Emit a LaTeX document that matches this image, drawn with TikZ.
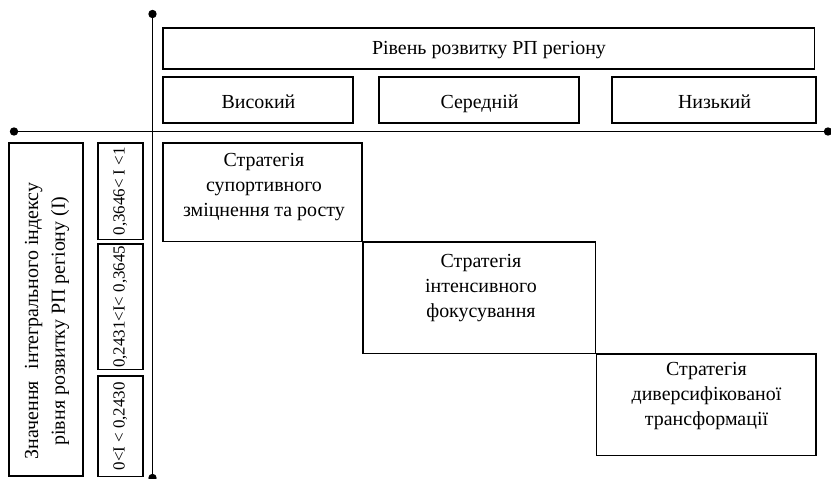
\documentclass[tikz,border=0pt]{standalone}
\usepackage{fontspec}
\setmainfont{Liberation Serif}

\begin{document}
\begin{tikzpicture}[x=1bp, y=-1bp,
  box/.style={draw, line width=1.6bp, rectangle, inner sep=0pt, outer sep=0pt, anchor=north west},
  lbl/.style={font=\fontsize{20}{25}\selectfont, align=center, inner sep=0pt},
  vlbl/.style={font=\fontsize{20}{27}\selectfont, align=center, inner sep=0pt, rotate=90},
  rlbl/.style={font=\fontsize{17}{20}\selectfont, inner sep=0pt, rotate=90},
  axis/.style={line width=1.8bp},
  dot/.style={fill=black}]
\useasboundingbox (0,0) rectangle (831,479);

% axes
\coordinate (vtop) at (152.5,14);
\coordinate (vbot) at (152.5,478);
\coordinate (hleft) at (14,131.5);
\coordinate (hright) at (828,131.5);
\draw[axis] (vtop) -- (vbot);
\draw[axis] (hleft) -- (hright);
\foreach \p in {vtop,vbot,hleft,hright} \fill[dot] (\p) circle (4.2);

% header: development level
\node[box, minimum width=654, minimum height=41] (head) at (163,28) {};
\node[lbl, anchor=base] (headtxt) at (489,54.5) {Рівень розвитку РП регіону};
\node[box, minimum width=191, minimum height=46] (vys) at (163,77) {};
\node[lbl, anchor=base] at (258.5,108.5) {Високий};
\node[box, minimum width=201, minimum height=46] (ser) at (379,77) {};
\node[lbl, anchor=base] at (479.5,108.5) {Середній};
\node[box, minimum width=205, minimum height=46] (niz) at (612,77) {};
\node[lbl, anchor=base] at (714.5,108.5) {Низький};

% left side: index value ranges
\node[box, minimum width=74, minimum height=334] (big) at (9,143) {};
\node[vlbl] (bigtxt) at (47,321) {Значення\hspace{0.6em}інтегрального індексу\\рівня розвитку РП регіону (І)};
\node[box, minimum width=45, minimum height=97] (r1) at (98,143) {};
\node[rlbl] at (r1.center) {0,3646< І <1};
\node[box, minimum width=45, minimum height=126] (r2) at (98,244) {};
\node[rlbl] at (r2.center) {0,2431<І< 0,3645};
\node[box, minimum width=45, minimum height=101] (r3) at (98,376) {};
\node[rlbl] at (r3.center) {0<І < 0,2430};

% strategies
\node[box, minimum width=200, minimum height=99] (s1) at (163,143) {};
\node[lbl, anchor=north] (s1txt) at (264,153.5) {Стратегія\\супортивного\\зміцнення та росту};
\node[box, minimum width=233.5, minimum height=112] (s2) at (363,242) {};
\node[lbl, anchor=north] (s2txt) at (481,254) {Стратегія\\інтенсивного\\фокусування};
\node[box, minimum width=220.5, minimum height=102] (s3) at (596.5,354) {};
\node[lbl, anchor=north] (s3txt) at (706.5,362.5) {Стратегія\\диверсифікованої\\трансформації};
\end{tikzpicture}
\end{document}
